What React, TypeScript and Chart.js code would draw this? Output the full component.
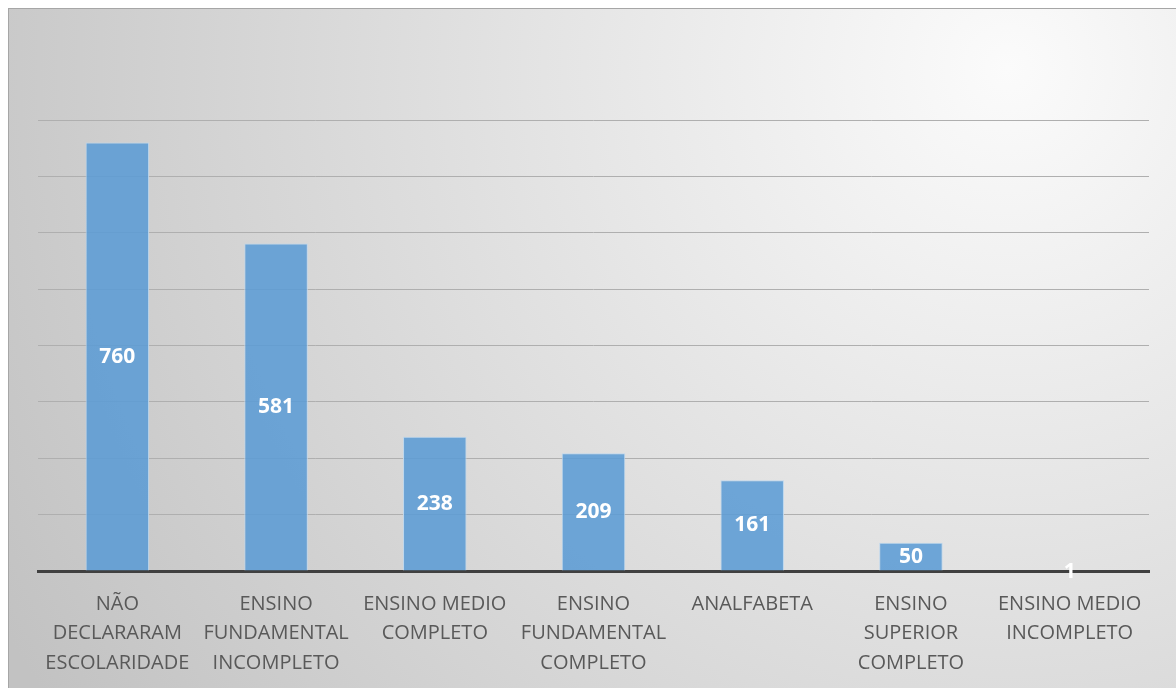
import React, { useEffect, useRef } from "react";
import { Chart, registerables } from "chart.js";

Chart.register(...registerables);

const categories: string[][] = [
  ["NÃO", "DECLARARAM", "ESCOLARIDADE"],
  ["ENSINO", "FUNDAMENTAL", "INCOMPLETO"],
  ["ENSINO MEDIO", "COMPLETO"],
  ["ENSINO", "FUNDAMENTAL", "COMPLETO"],
  ["ANALFABETA"],
  ["ENSINO", "SUPERIOR", "COMPLETO"],
  ["ENSINO MEDIO", "INCOMPLETO"],
];
const values: number[] = [760, 581, 238, 209, 161, 50, 1];
const yMax = 800;
const yStep = 100;

const bgPlugin = {
  id: "bgPlugin",
  beforeDraw(chart: any) {
    const { ctx, width, height } = chart;
    ctx.save();
    const g = ctx.createRadialGradient(1000, 60, 0, 1000, 60, 1150);
    g.addColorStop(0, "#fbfbfb");
    g.addColorStop(1, "#c2c2c2");
    ctx.fillStyle = g;
    ctx.fillRect(0, 0, width, height);
    ctx.strokeStyle = "#a6a6a6";
    ctx.lineWidth = 1;
    ctx.strokeRect(0.5, 0.5, width, height);
    ctx.restore();
  },
};

const labelPlugin = {
  id: "labelPlugin",
  afterDraw(chart: any) {
    const { ctx } = chart;
    const meta = chart.getDatasetMeta(0);
    ctx.save();
    ctx.fillStyle = "#ffffff";
    ctx.font = "bold 21px 'Open Sans'";
    ctx.textAlign = "center";
    ctx.textBaseline = "middle";
    meta.data.forEach((el: any, i: number) => {
      const y = (el.y + el.base) / 2 + (values[i] < 10 ? 2 : 0);
      ctx.fillText(String(values[i]), el.x, y);
    });
    ctx.restore();
  },
};

export default function App() {
  const ref = useRef<HTMLCanvasElement>(null);
  useEffect(() => {
    if (!ref.current) return;
    const chart = new Chart(ref.current, {
      type: "bar",
      data: {
        labels: categories,
        datasets: [
          {
            data: values,
            backgroundColor: "rgba(91,155,213,0.87)",
            borderColor: "#bdd7ee",
            borderWidth: 1,
            barPercentage: 0.4,
            categoryPercentage: 1,
          },
        ],
      },
      options: {
        animation: false,
        responsive: false,
        maintainAspectRatio: false,
        layout: { padding: { top: 112, left: 30, right: 27, bottom: 0 } },
        plugins: {
          legend: { display: false },
          tooltip: { enabled: false },
        },
        scales: {
          x: {
            z: 1,
            afterFit: (scale: any) => {
              scale.height = 117;
            },
            grid: { display: false, drawTicks: false },
            border: { display: true, color: "#404040", width: 3 },
            ticks: {
              color: "#595959",
              font: { family: "'Open Sans'", size: 20, lineHeight: 1.48 },
              padding: 18,
              maxRotation: 0,
              autoSkip: false,
            },
          },
          y: {
            min: 0,
            max: yMax,
            grid: { color: "#afafaf", lineWidth: 1, drawTicks: false },
            border: { display: false },
            ticks: { display: false, stepSize: yStep },
          },
        },
      },
      plugins: [bgPlugin, labelPlugin],
    });
    return () => chart.destroy();
  }, []);
  return (
    <div style={{ position: "fixed", left: 8, top: 8, width: 1168, height: 680 }}>
      <canvas ref={ref} width={1168} height={680} style={{ width: 1168, height: 680 }} />
    </div>
  );
}
